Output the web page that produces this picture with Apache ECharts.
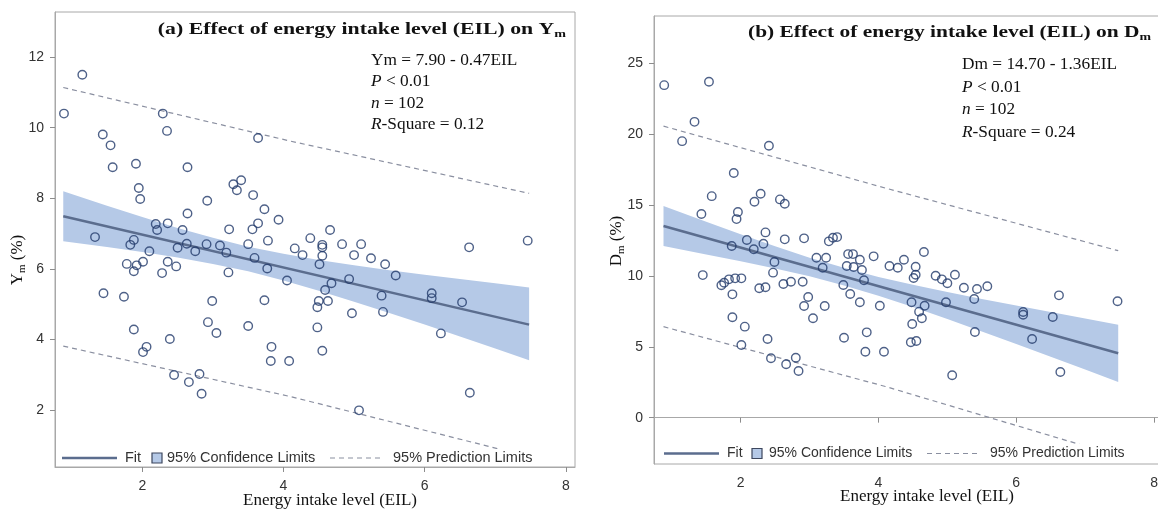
<!DOCTYPE html>
<html><head><meta charset="utf-8">
<script src="https://cdn.jsdelivr.net/npm/echarts@6/dist/echarts.min.js"></script>
<style>html,body{margin:0;padding:0;background:#fff}#c{width:1158px;height:512px}</style>
</head><body><div id="c"></div>
<script>
// ---------- data ----------
const xTicks = [2, 4, 6, 8];
const ymTicks = [2, 4, 6, 8, 10, 12];
const dmTicks = [0, 5, 10, 15, 20, 25];

// panel (a): observations
const eilA = [1.15,0.89,2.29,2.35,3.64,1.44,1.55,1.58,1.91,2.64,
  1.95,1.97,3.29,3.40,3.34,3.57,2.92,2.64,3.73,3.93,
  2.19,2.21,2.36,2.57,3.23,3.56,3.64,1.33,1.88,1.83,
  3.78,3.50,4.16,4.27,2.10,2.50,2.63,2.75,2.91,3.10,
  3.19,3.59,3.77,4.05,1.78,1.92,2.01,1.88,2.36,2.48,
  2.28,3.22,1.45,1.74,2.99,3.73,1.88,2.93,3.05,3.50,
  2.39,2.06,2.01,3.83,3.82,4.08,2.45,2.81,2.66,2.84,
  4.66,4.38,4.55,4.55,4.83,5.10,6.63,7.46,4.55,5.00,
  5.24,5.44,4.51,5.59,4.93,4.68,4.59,5.39,6.10,6.10,
  6.53,4.50,4.63,4.48,4.97,5.41,4.48,6.23,4.55,6.64,5.07];
const ymA = [11.50,10.40,10.40,9.91,9.71,9.81,9.50,8.88,8.98,8.88,
  8.29,7.98,8.40,8.51,8.23,8.09,7.93,7.57,7.69,7.39,
  7.27,7.10,7.29,7.10,7.12,7.12,7.29,6.90,6.82,6.68,
  6.80,6.70,6.58,6.39,6.50,6.60,6.71,6.50,6.70,6.66,
  6.46,6.31,6.01,5.67,6.14,6.10,6.20,5.93,6.20,6.07,
  5.88,5.90,5.31,5.21,5.09,5.11,4.28,4.49,4.18,4.38,
  4.01,3.79,3.64,3.79,3.39,3.39,2.99,3.02,2.79,2.46,
  7.10,6.87,6.68,6.61,6.70,6.70,6.61,6.80,6.37,6.39,
  6.30,6.13,6.13,5.81,5.71,5.59,5.40,5.24,5.31,5.17,
  5.05,5.09,5.09,4.91,4.74,4.78,4.34,4.17,3.68,2.49,1.99];

// panel (b): observations
const eilB = [0.89,1.54,1.33,1.15,2.41,1.90,1.58,2.29,2.20,2.57,
  2.64,1.43,1.96,1.94,2.36,2.09,2.64,2.92,3.28,3.34,
  3.40,1.87,2.33,2.19,2.49,3.10,3.24,3.19,3.56,3.63,
  3.73,3.54,3.64,3.93,3.76,3.79,4.16,4.28,4.37,2.47,
  1.45,1.72,1.76,1.83,1.92,2.01,2.27,2.36,2.62,2.73,
  2.90,3.49,3.59,1.88,2.98,1.88,2.06,2.01,2.39,2.44,
  2.66,2.80,2.84,2.92,3.05,3.22,3.50,3.83,3.81,3.73,
  4.02,4.66,4.54,4.54,4.51,4.83,4.92,5.00,5.11,
  5.24,5.43,5.58,4.48,4.67,4.59,4.63,4.98,5.39,4.49,
  4.47,4.55,4.08,5.40,6.10,6.10,6.53,6.62,6.23,7.47,6.64,5.07];
const dmB = [23.46,23.70,20.87,19.51,19.18,17.26,15.63,15.80,15.23,15.40,
  15.09,14.37,14.51,14.01,13.07,12.53,12.58,12.65,12.44,12.69,
  12.74,12.11,12.27,11.88,10.98,11.28,11.28,10.58,11.54,11.54,
  11.14,10.70,10.63,11.38,10.42,9.69,10.70,10.58,11.14,10.23,
  10.06,9.34,9.52,9.76,9.83,9.83,9.13,9.20,9.43,9.59,
  9.59,9.36,8.72,8.70,8.51,7.08,6.42,5.13,5.55,4.19,
  3.77,4.23,3.29,7.88,7.01,7.88,5.64,6.02,4.65,8.14,
  7.90,11.69,10.65,10.08,9.85,10.01,9.76,9.48,10.08,
  9.17,9.08,9.27,8.14,7.90,7.48,7.01,8.14,8.37,6.61,
  5.32,5.41,4.65,6.04,7.45,7.26,7.10,8.63,5.55,8.21,3.22,2.99];

// fitted line, confidence band and prediction limits
const fitX = [0.88, 7.48];
const ymFit = [7.49, 4.42];
const dmFit = [13.52, 4.54];
const bandX = [0.88,1.5,2,2.5,3,3.5,4,4.5,5,5.5,6,6.5,7,7.48];
const ymUpper = [8.20,7.79,7.47,7.16,6.88,6.63,6.43,6.25,6.10,5.96,5.83,5.71,5.59,5.47];
const ymLower = [6.78,6.62,6.48,6.32,6.14,5.93,5.67,5.38,5.07,4.75,4.42,4.08,3.74,3.41];
const dmUpper = [14.93,13.82,12.94,12.09,11.29,10.57,9.93,9.37,8.86,8.38,7.91,7.45,6.99,6.56];
const dmLower = [12.11,11.52,11.04,10.53,9.97,9.33,8.61,7.81,6.96,6.08,5.19,4.29,3.39,2.52];
const predX = [0.88, 4.1, 7.48];
const ymPredUpper = [11.14, 9.62, 8.14];
const ymPredLower = [3.81, 2.38, 0.68];
const dmPredUpper = [20.57, 16.20, 11.78];
const dmPredLower = [6.42, 2.20, -2.70];

// ---------- styles ----------
const BAND = '#b5c9e7';
const FIT = '#5b6d8e';
const PRED = '#8a8fa0';
const MARK = '#22396a';
const FRAME = '#a8a8a8';
const SERIF = "'Liberation Serif', 'Times New Roman', serif";
const SANS = "'Liberation Sans', Arial, sans-serif";

const zip = (xs, ys) => xs.map((x, i) => [x, ys[i]]);

function xAxisCfg(gi, min, max) {
  return {type: 'value', gridIndex: gi, min, max,
    axisLine: {show: true, lineStyle: {color: FRAME, width: 1}},
    splitLine: {show: false},
    axisTick: {show: true, customValues: xTicks, length: 5, lineStyle: {color: '#8c8c8c'}},
    axisLabel: {customValues: xTicks, margin: 12, color: '#333', fontFamily: SANS, fontSize: 14}};
}
function yAxisCfg(gi, min, max, ticks) {
  return {type: 'value', gridIndex: gi, min, max,
    axisLine: {show: true, lineStyle: {color: FRAME, width: 1}},
    splitLine: {show: false},
    axisTick: {show: true, customValues: ticks, length: 5, lineStyle: {color: '#8c8c8c'}},
    axisLabel: {customValues: ticks, margin: 11, color: '#333', fontFamily: SANS, fontSize: 14}};
}
function bandSeries(gi, xs, up, lo) {
  return {type: 'custom', xAxisIndex: gi, yAxisIndex: gi, silent: true, clip: true, z: 1,
    data: [[xs[0], up[0]]],
    renderItem: (params, api) => {
      const pts = xs.map((x, i) => api.coord([x, up[i]]))
        .concat(xs.map((x, i) => api.coord([x, lo[i]])).reverse());
      return {type: 'polygon', shape: {points: pts}, style: {fill: BAND}};
    }};
}
function lineSeries(gi, data, color, width, type, z) {
  return {type: 'line', xAxisIndex: gi, yAxisIndex: gi, data, showSymbol: false, symbol: 'none',
    silent: true, clip: true, z, lineStyle: {color, width, type}};
}
function scatterSeries(gi, data) {
  return {type: 'scatter', xAxisIndex: gi, yAxisIndex: gi, data, symbol: 'circle', symbolSize: 8.5, z: 5,
    itemStyle: {color: 'rgba(0,0,0,0)', borderColor: MARK, borderWidth: 1.4}};
}

// ---------- graphic text helpers ----------
function txt(x, y, text, o) {
  o = o || {};
  return {type: 'text', x, y, z: 100, scaleX: o.sx || 1, rotation: o.rot || 0,
    style: {text, align: o.align || 'left', verticalAlign: 'middle',
      fontFamily: o.ff || SERIF, fontSize: o.fs || 17, fontWeight: o.fw || 'normal',
      fill: o.fill || '#111', rich: o.rich}};
}
function richSet(fs, fw) {
  return {
    t: {fontFamily: SERIF, fontSize: fs, fontWeight: fw, fill: '#111', lineHeight: fs + 3},
    i: {fontFamily: SERIF, fontSize: fs, fontWeight: fw, fontStyle: 'italic', fill: '#111', lineHeight: fs + 3},
    s: {fontFamily: SERIF, fontSize: Math.round(fs * 0.66), fontWeight: fw, fill: '#111',
      verticalAlign: 'bottom', lineHeight: Math.round(fs * 0.66) + 2}
  };
}
function legend(y, L) {
  return [
    {type: 'rect', z: 90, shape: {x: L.bg[0], y: L.bg[1], width: L.bg[2], height: L.bg[3]}, style: {fill: '#fff'}},
    {type: 'line', z: 100, shape: {x1: L.fit[0], y1: y, x2: L.fit[1], y2: y}, style: {stroke: FIT, lineWidth: 2.5}},
    txt(L.fitT, y, 'Fit', {ff: SANS, fs: L.fs, fill: '#333'}),
    {type: 'rect', z: 100, shape: {x: L.sq, y: y - 5, width: 10, height: 10}, style: {fill: BAND, stroke: '#3d475e', lineWidth: 1.2}},
    txt(L.sqT, y, '95% Confidence Limits', {ff: SANS, fs: L.fs, fill: '#333'}),
    {type: 'line', z: 100, shape: {x1: L.pr[0], y1: y, x2: L.pr[1], y2: y}, style: {stroke: PRED, lineWidth: 1.2, lineDash: [5, 4]}},
    txt(L.prT, y, '95% Prediction Limits', {ff: SANS, fs: L.fs, fill: '#333'})
  ];
}

const graphics = [].concat(
  // panel (a) texts
  [txt(566, 30, '{t|(a) Effect of energy intake level (EIL) on Y}{s|m}', {align: 'right', sx: 1.28, rich: richSet(17, 'bold')}),
   txt(371, 61, '{t|Ym = 7.90 - 0.47EIL}', {sx: 1.05, rich: richSet(16.5, 'normal')}),
   txt(371, 82, '{i|P}{t| < 0.01}', {sx: 1.05, rich: richSet(16.5, 'normal')}),
   txt(371, 103.5, '{i|n}{t| = 102}', {sx: 1.05, rich: richSet(16.5, 'normal')}),
   txt(371, 125, '{i|R}{t|-Square = 0.12}', {sx: 1.05, rich: richSet(16.5, 'normal')}),
   txt(18, 260, '{t|Y}{s|m}{t| (%)}', {align: 'center', rot: Math.PI / 2, rich: richSet(17, 'normal')}),
   txt(330, 501, 'Energy intake level (EIL)', {align: 'center', fs: 17})],
  legend(458, {bg: [57, 449, 485, 17], fit: [62, 117], fitT: 125, sq: 152, sqT: 167, pr: [330, 382], prT: 393, fs: 14.5}),
  // panel (b) texts
  [txt(1151, 33, '{t|(b) Effect of energy intake level (EIL) on D}{s|m}', {align: 'right', sx: 1.26, rich: richSet(17, 'bold')}),
   txt(962, 64.5, '{t|Dm = 14.70 - 1.36EIL}', {sx: 1.05, rich: richSet(16.5, 'normal')}),
   txt(962, 87.5, '{i|P}{t| < 0.01}', {sx: 1.05, rich: richSet(16.5, 'normal')}),
   txt(962, 110, '{i|n}{t| = 102}', {sx: 1.05, rich: richSet(16.5, 'normal')}),
   txt(962, 132.5, '{i|R}{t|-Square = 0.24}', {sx: 1.05, rich: richSet(16.5, 'normal')}),
   txt(617, 241, '{t|D}{s|m}{t| (%)}', {align: 'center', rot: Math.PI / 2, rich: richSet(17, 'normal')}),
   txt(927, 497, 'Energy intake level (EIL)', {align: 'center', fs: 17})],
  legend(453.5, {bg: [658, 444, 490, 19], fit: [664, 719], fitT: 727, sq: 752, sqT: 769, pr: [927, 977], prT: 990, fs: 14})
);

const option = {
  animation: false,
  backgroundColor: '#fff',
  grid: [
    {left: 55, top: 12, width: 520, height: 455, show: true, borderColor: FRAME, borderWidth: 1,
      containLabel: false, outerBoundsMode: 'none'},
    {left: 654, top: 16, width: 509, height: 448, show: true, borderColor: FRAME, borderWidth: 1,
      containLabel: false, outerBoundsMode: 'none'}
  ],
  xAxis: [xAxisCfg(0, 0.763, 8.13), xAxisCfg(1, 0.742, 8.13)],
  yAxis: [yAxisCfg(0, 0.384, 13.28, ymTicks), yAxisCfg(1, -3.27, 28.34, dmTicks)],
  series: [
    bandSeries(0, bandX, ymUpper, ymLower),
    lineSeries(0, zip(predX, ymPredUpper), PRED, 1.2, [5, 4], 2),
    lineSeries(0, zip(predX, ymPredLower), PRED, 1.2, [5, 4], 2),
    lineSeries(0, zip(fitX, ymFit), FIT, 2.5, 'solid', 3),
    scatterSeries(0, zip(eilA, ymA)),
    bandSeries(1, bandX, dmUpper, dmLower),
    lineSeries(1, zip(predX, dmPredUpper), PRED, 1.2, [5, 4], 2),
    lineSeries(1, zip(predX, dmPredLower), PRED, 1.2, [5, 4], 2),
    lineSeries(1, zip(fitX, dmFit), FIT, 2.5, 'solid', 3),
    scatterSeries(1, zip(eilB, dmB))
  ],
  graphic: graphics
};
const chart = echarts.init(document.getElementById('c'), null, {renderer: 'canvas'});
chart.setOption(option);
</script></body></html>
